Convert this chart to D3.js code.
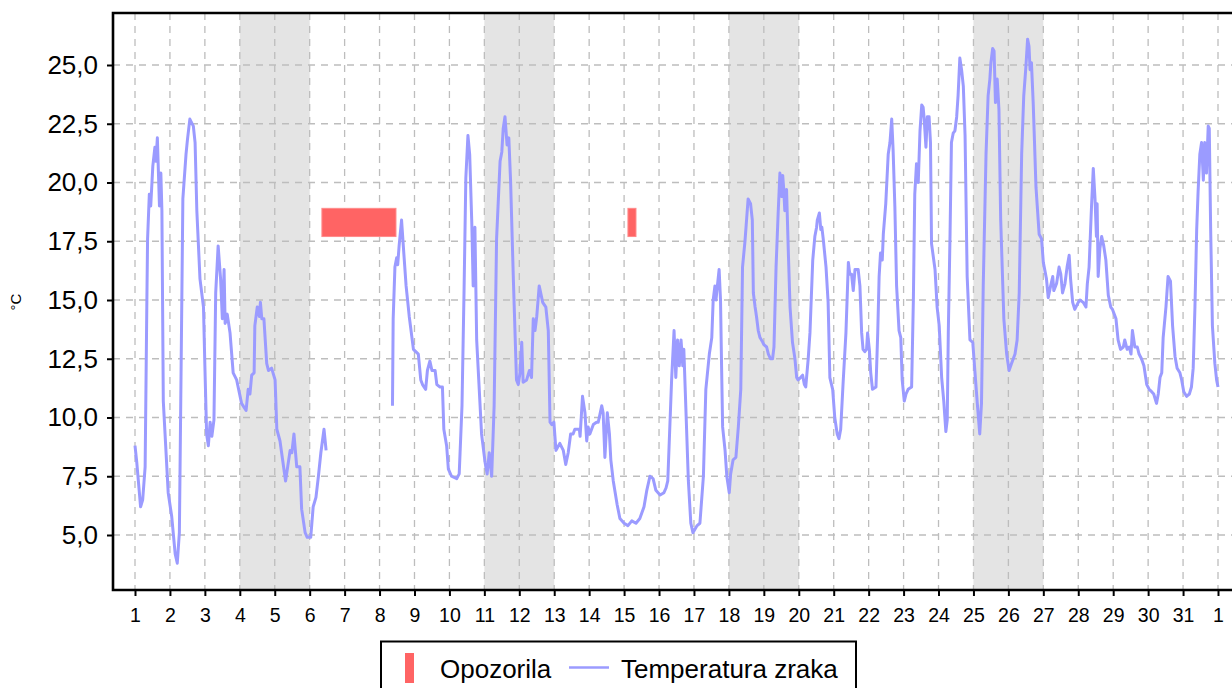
<!DOCTYPE html>
<html>
<head>
<meta charset="utf-8">
<script src="https://cdn.jsdelivr.net/npm/d3@7"></script>
<style>
    body { margin: 0; background: #fff; }
    svg { display: block; font-family: 'Liberation Sans', Arial, sans-serif; }
    .grid line { stroke: #bdbdbd; stroke-width: 1.3; stroke-dasharray: 7,6; }
    .axis text { fill: #000; }
    .axis line { stroke: #000; stroke-width: 2; }
</style>
</head>
<body>
<svg class="rootSvg" width="1232" height="688"></svg>
<script>
// Day labels under the ticks (last one is the 1st of next month)
var dayTicks = d3.range(1, 33);
var dayLabels = ['1', '2', '3', '4', '5', '6', '7', '8', '9', '10', '11', '12', '13', '14', '15', '16',
                 '17', '18', '19', '20', '21', '22', '23', '24', '25', '26', '27', '28', '29', '30', '31', '1'];
var tempTicks = [5, 7.5, 10, 12.5, 15, 17.5, 20, 22.5, 25];

// Weekends (start day, two days each)
var weekendStart = [4, 11, 18, 25];

// Warnings (Opozorila)
var warnStart = [6.35, 15.11];
var warnEnd = [8.47, 15.34];
var warnLow = 17.7;
var warnHigh = 18.9;

// Air temperature, [day, °C]
var tempSeg1 = [
    [1.00,8.8],[1.05,8.1],[1.16,6.2],[1.22,6.5],[1.29,7.9],[1.34,15.0],[1.36,17.6],[1.41,19.5],[1.45,19.0],
    [1.51,20.7],[1.57,21.5],[1.60,20.9],[1.64,21.9],[1.70,19.0],[1.74,20.4],[1.77,18.8],[1.81,10.7],[1.95,6.8],
    [2.05,5.8],[2.15,4.2],[2.21,3.8],[2.27,5.1],[2.31,10.7],[2.37,19.3],[2.46,21.2],[2.50,21.8],[2.57,22.7],
    [2.67,22.4],[2.72,21.7],[2.77,18.8],[2.86,15.9],[2.96,14.7],[3.00,12.2],[3.05,9.3],[3.10,8.8],[3.15,9.8],
    [3.20,9.2],[3.26,9.9],[3.31,15.3],[3.38,17.3],[3.45,15.9],[3.50,14.2],[3.55,16.3],[3.58,14.0],[3.64,14.4],
    [3.72,13.6],[3.81,11.9],[3.91,11.6],[4.05,10.6],[4.18,10.3],[4.24,11.2],[4.29,11.0],[4.34,11.8],[4.41,11.9],
    [4.43,13.9],[4.50,14.7],[4.56,14.3],[4.59,14.9],[4.63,14.2],[4.69,14.2],[4.77,12.3],[4.82,12.0],[4.91,12.1],
    [5.01,11.6],[5.06,9.5],[5.15,9.0],[5.31,7.3],[5.44,8.6],[5.49,8.5],[5.55,9.3],[5.63,7.9],[5.72,7.9],
    [5.77,6.1],[5.87,5.1],[5.93,4.9],[6.03,4.9],[6.10,6.2],[6.18,6.6],[6.25,7.5],[6.32,8.5],[6.41,9.5],[6.47,8.6]
];

var tempSeg2a = [
    [8.37,10.5],[8.39,14.2],[8.44,16.4],[8.49,16.8],[8.52,16.5],[8.56,17.3],[8.63,18.4],[8.68,17.3],[8.76,15.6],
    [8.85,14.3],[8.97,12.9],[9.11,12.7],[9.18,11.6],[9.23,11.4],[9.32,11.2],[9.37,12.0],[9.44,12.4],[9.50,12.0],
    [9.59,12.0],[9.64,11.4],[9.73,11.3],[9.80,11.3],[9.84,9.5],[9.92,8.8],[9.97,7.8],[10.06,7.5],[10.21,7.4],
    [10.28,7.6],[10.36,10.5],[10.42,15.5],[10.47,20.2],[10.53,22.0],[10.58,21.2],[10.64,18.3],[10.68,15.6],
    [10.73,18.1],[10.78,13.3],[10.92,9.3],[11.02,8.1],[11.08,7.6],[11.14,8.5],[11.21,7.5],[11.28,10.5],
    [11.35,17.6],[11.45,20.9],[11.50,21.3],[11.54,22.3],[11.59,22.8],[11.65,21.6],[11.70,21.9],[11.75,20.1],
    [11.83,15.9],[11.92,11.6],[11.97,11.4],[12.02,11.9],[12.07,13.2],[12.11,11.5],[12.21,11.6],[12.29,12.0],
    [12.35,11.7],[12.40,14.2],[12.45,13.7],[12.50,14.3],[12.57,15.6],[12.67,14.9],[12.76,14.7],[12.83,13.7],
    [12.88,9.8],[12.93,9.7],[12.99,9.8],[13.05,8.6],[13.16,8.9],[13.26,8.6],[13.33,8.0],[13.40,8.5],[13.47,9.3],
    [13.54,9.3],[13.59,9.5],[13.66,9.5],[13.72,9.5],[13.74,9.2],[13.81,10.9],[13.88,10.2],[13.93,9.0],[13.97,9.6],
    [14.02,9.3],[14.12,9.7],[14.21,9.8],[14.26,9.8],[14.36,10.5],[14.40,10.2],[14.45,8.3],[14.52,10.2],[14.58,9.3],
    [14.62,8.2],[14.69,7.3],[14.80,6.3],[14.88,5.7],[15.00,5.5],[15.11,5.4],[15.22,5.6],[15.34,5.5],[15.45,5.7],
    [15.57,6.2],[15.65,6.9],[15.74,7.5],[15.83,7.4],[15.91,6.9],[16.03,6.7],[16.14,6.8],[16.20,7.0],[16.25,7.3],
    [16.36,11.6],[16.43,13.7],[16.48,11.7],[16.53,13.3],[16.58,12.2],[16.63,13.3],[16.68,12.2],[16.71,12.9],
    [16.84,7.3],[16.91,5.5],[16.97,5.1],[17.09,5.4],[17.17,5.5]
];

var tempSeg2b = [
    [17.27,7.5],[17.34,11.2],[17.44,12.7],[17.51,13.4],[17.55,15.0],[17.60,15.6],[17.63,15.0],[17.67,15.6],
    [17.72,16.3],[17.76,15.0],[17.79,12.2],[17.82,9.6],[17.89,8.6],[17.94,7.5],[18.01,6.8],[18.05,7.6],[18.12,8.2],
    [18.20,8.3],[18.27,9.6],[18.34,11.2],[18.39,16.4],[18.46,17.5],[18.51,18.5],[18.55,19.3],[18.62,19.1],
    [18.67,18.4],[18.70,15.3],[18.75,14.7],[18.79,14.3],[18.84,13.7],[18.89,13.4],[18.97,13.2],[19.00,13.1],
    [19.08,13.0],[19.13,12.7],[19.19,12.5],[19.25,12.5],[19.29,13.0],[19.35,16.4],[19.41,18.7],[19.46,20.4],
    [19.51,19.4],[19.54,20.3],[19.57,19.7],[19.60,18.8],[19.65,19.7],[19.70,17.1],[19.75,14.7],[19.82,13.2],
    [19.89,12.5],[19.94,11.7],[19.98,11.6],[20.05,11.7],[20.11,11.8],[20.16,11.4],[20.20,11.3],[20.27,12.5],
    [20.32,13.6],[20.40,16.7],[20.46,17.7],[20.51,18.1],[20.53,18.4],[20.59,18.7],[20.63,18.0],[20.66,18.1],
    [20.70,17.6],[20.78,16.4],[20.84,14.9],[20.89,11.7],[20.97,11.2],[21.03,10.0],[21.10,9.3],[21.15,9.1],
    [21.20,9.5],[21.27,11.5],[21.35,13.6],[21.42,16.6],[21.46,16.1],[21.51,16.1],[21.56,15.4],[21.61,16.3],
    [21.70,16.3],[21.75,15.6],[21.80,13.6],[21.84,12.9],[21.89,12.8],[21.94,12.9],[21.97,13.6],[22.02,12.9],
    [22.06,11.9],[22.11,11.2],[22.21,11.3],[22.26,13.6],[22.30,16.0],[22.34,17.0],[22.39,16.7],[22.42,17.8],
    [22.49,19.1],[22.56,21.2],[22.61,21.7],[22.66,22.7],[22.70,21.4],[22.75,19.0],[22.80,15.6],[22.87,13.7],
    [22.92,13.4],[22.96,11.6],[23.02,10.7],[23.07,11.0],[23.13,11.2],[23.23,11.3],[23.28,15.0],[23.32,19.5],
    [23.37,20.8],[23.42,20.0],[23.47,22.2],[23.52,23.3],[23.56,23.2],[23.59,22.7],[23.64,21.5],[23.68,22.8],
    [23.73,22.8],[23.77,21.7],[23.80,17.4],[23.90,16.3],[23.96,14.7],[24.02,13.9],[24.09,11.7],[24.15,10.7],
    [24.21,9.4],[24.25,9.9],[24.28,13.6],[24.33,17.8],[24.37,21.7],[24.42,22.1],[24.47,22.2],[24.52,22.8],
    [24.56,23.7],[24.61,25.3],[24.66,24.8],[24.71,24.1],[24.76,22.0],[24.82,16.0],[24.90,13.3],[24.98,13.2],
    [25.04,12.0],[25.11,10.6],[25.18,9.3],[25.23,10.6],[25.28,15.6],[25.36,21.2],[25.42,23.7],[25.47,24.4],
    [25.50,25.1],[25.55,25.7],[25.59,25.6],[25.63,23.4],[25.68,24.4],[25.73,23.1],[25.78,18.4],[25.87,14.2],
    [25.95,12.7],[26.02,12.0],[26.09,12.3],[26.19,12.7],[26.25,13.3],[26.31,15.3],[26.38,21.2],[26.44,23.7],
    [26.50,24.9],[26.55,26.1],[26.59,25.8],[26.62,24.8],[26.66,25.1],[26.71,23.4],[26.79,19.8],[26.88,17.8],
    [26.95,17.6],[27.00,16.6],[27.09,15.9],[27.14,15.1],[27.21,15.6],[27.27,16.0],[27.30,15.4],[27.38,15.7],
    [27.45,16.4],[27.50,16.1],[27.55,15.3],[27.62,15.7],[27.68,16.4],[27.74,16.9],[27.78,15.9],[27.84,14.9],
    [27.90,14.6],[28.00,14.9],[28.05,15.0],[28.14,14.9],[28.22,14.7],[28.26,15.7],[28.31,16.4],[28.38,19.0],
    [28.43,20.6],[28.48,19.3],[28.52,17.7],[28.54,19.1],[28.57,16.0],[28.62,17.2],[28.67,17.7],[28.73,17.3],
    [28.79,16.7],[28.86,15.2],[28.93,14.7],[28.98,14.6],[29.08,14.2],[29.14,13.3],[29.21,12.9],[29.29,13.0],
    [29.33,13.3],[29.40,12.9],[29.46,13.0],[29.51,12.7],[29.55,13.7],[29.62,13.0],[29.69,13.0],[29.74,12.7],
    [29.81,12.5],[29.88,12.2],[29.96,11.4],[30.03,11.2],[30.10,11.1],[30.16,11.0],[30.24,10.6],[30.29,11.0],
    [30.34,11.7],[30.39,11.9],[30.43,13.4],[30.51,14.7],[30.57,16.0],[30.64,15.8],[30.70,13.9],[30.77,12.6],
    [30.83,12.1],[30.91,11.9],[30.96,11.6],[31.02,11.1],[31.10,10.9],[31.18,11.0],[31.24,11.3],[31.29,12.1],
    [31.34,14.7],[31.39,18.0],[31.43,19.6],[31.48,21.2],[31.53,21.7],[31.58,20.1],[31.62,21.7],[31.67,20.4],
    [31.72,22.4],[31.75,22.3],[31.79,18.0],[31.84,13.9],[31.91,12.3],[31.96,11.6],[32.00,11.3]
];

var segments = [tempSeg1, tempSeg2a.concat(tempSeg2b)];

// Plot box (right side runs past the window)
var plotLeft = 113, plotTop = 13, plotBottom = 590, plotRight = 1250;

var x = d3.scaleLinear().domain([1, 32]).range([135, 1218]);
var y = d3.scaleLinear().domain([5, 25]).range([535, 65]);

var svg = d3.select('.rootSvg');

svg.append('rect')
    .attr('width', 1232)
    .attr('height', 688)
    .attr('fill', '#fff');

// Weekend shading
svg.append('g')
    .selectAll('rect')
    .data(weekendStart)
    .enter()
    .append('rect')
        .attr('x', function (d) { return x(d); })
        .attr('y', plotTop)
        .attr('width', function (d) { return x(d + 2) - x(d); })
        .attr('height', plotBottom - plotTop)
        .attr('fill', '#e4e4e4');

// Grid
var grid = svg.append('g').attr('class', 'grid');

grid.selectAll('.vgrid')
    .data(dayTicks)
    .enter()
    .append('line')
        .attr('class', 'vgrid')
        .attr('x1', x).attr('x2', x)
        .attr('y1', plotTop).attr('y2', plotBottom);

grid.selectAll('.hgrid')
    .data(tempTicks)
    .enter()
    .append('line')
        .attr('class', 'hgrid')
        .attr('x1', plotLeft).attr('x2', plotRight)
        .attr('y1', y).attr('y2', y);

// Warning bars
svg.append('g')
    .selectAll('rect')
    .data(warnStart)
    .enter()
    .append('rect')
        .attr('x', function (d) { return x(d); })
        .attr('y', y(warnHigh))
        .attr('width', function (d, i) { return x(warnEnd[i]) - x(d); })
        .attr('height', y(warnLow) - y(warnHigh))
        .attr('fill', '#ff6464')
        .attr('stroke', '#ff8a8a')
        .attr('stroke-width', 1);

// Temperature line
var line = d3.line()
    .x(function (d) { return x(d[0]); })
    .y(function (d) { return y(d[1]); });

svg.append('g')
    .selectAll('path')
    .data(segments)
    .enter()
    .append('path')
        .attr('d', line)
        .attr('fill', 'none')
        .attr('stroke', '#9b9bff')
        .attr('stroke-width', 3)
        .attr('stroke-linejoin', 'round');

// Axes
var xAxis = d3.axisBottom(x)
    .tickValues(dayTicks)
    .tickFormat(function (d, i) { return dayLabels[i]; })
    .tickSizeInner(6)
    .tickSizeOuter(0)
    .tickPadding(12);

var gx = svg.append('g')
    .attr('class', 'axis')
    .attr('transform', 'translate(0,' + plotBottom + ')')
    .call(xAxis);
gx.select('.domain').remove();
gx.selectAll('text').attr('font-size', 19.5).attr('font-family', null);

var yAxis = d3.axisLeft(y)
    .tickValues(tempTicks)
    .tickFormat(function (d) { return d3.format('.1f')(d).replace('.', ','); })
    .tickSizeInner(6)
    .tickSizeOuter(0)
    .tickPadding(9);

var gy = svg.append('g')
    .attr('class', 'axis')
    .attr('transform', 'translate(' + plotLeft + ',0)')
    .call(yAxis);
gy.select('.domain').remove();
gy.selectAll('text').attr('font-size', 26).attr('font-family', null);

// Frame
svg.append('path')
    .attr('d', 'M' + plotRight + ',' + plotTop + 'H' + plotLeft + 'V' + plotBottom + 'H' + plotRight)
    .attr('fill', 'none')
    .attr('stroke', '#000')
    .attr('stroke-width', 2.6);

svg.append('text')
    .attr('transform', 'translate(20.5,302) rotate(-90)')
    .attr('text-anchor', 'middle')
    .attr('font-size', 15)
    .text('°C');

// Legend
var legend = svg.append('g');

legend.append('rect')
    .attr('x', 381).attr('y', 641.5)
    .attr('width', 475).attr('height', 70)
    .attr('fill', '#fff')
    .attr('stroke', '#000')
    .attr('stroke-width', 2);

legend.append('rect')
    .attr('x', 405).attr('y', 653)
    .attr('width', 9).attr('height', 30)
    .attr('fill', '#ff6464');

legend.append('text')
    .attr('x', 440).attr('y', 678)
    .attr('font-size', 26)
    .text('Opozorila');

legend.append('line')
    .attr('x1', 569).attr('x2', 609)
    .attr('y1', 667.5).attr('y2', 667.5)
    .attr('stroke', '#9b9bff')
    .attr('stroke-width', 2.6);

legend.append('text')
    .attr('x', 621).attr('y', 678)
    .attr('font-size', 26)
    .text('Temperatura zraka');
</script>
</body>
</html>
